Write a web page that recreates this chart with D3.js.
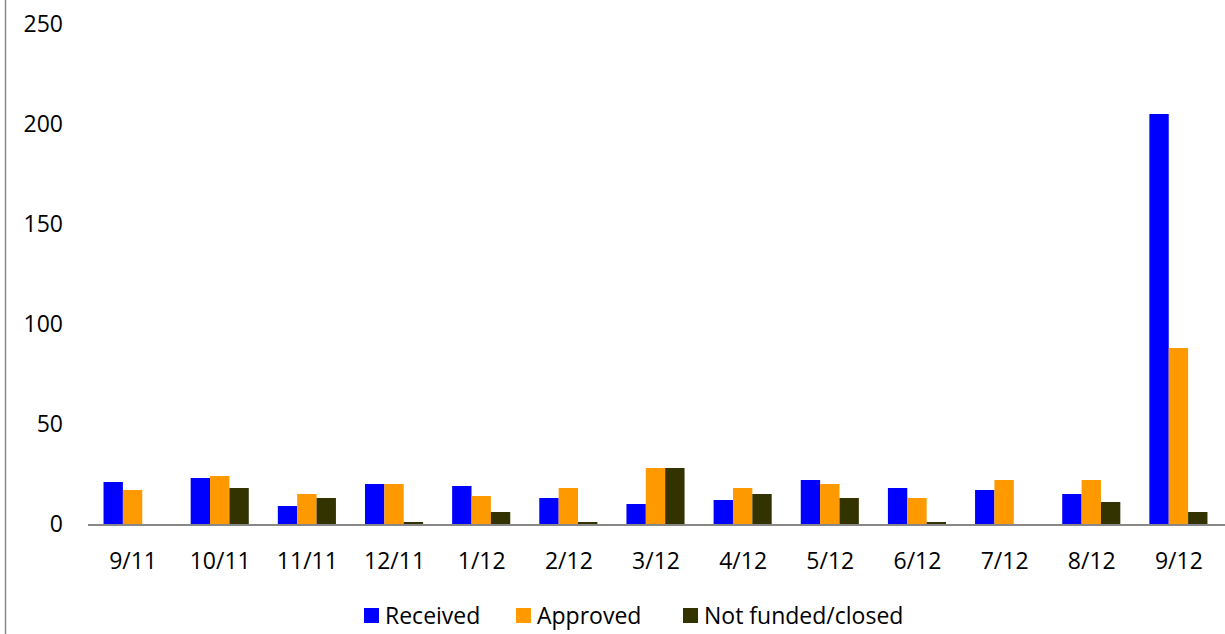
<!DOCTYPE html>
<html><head><meta charset="utf-8">
<script src="https://cdn.jsdelivr.net/npm/d3@7"></script>
<style>body{margin:0;background:#fff}svg{display:block}</style>
</head><body>
<svg id="chart" width="1225" height="634"></svg>
<script>
const categories = ["9/11","10/11","11/11","12/11","1/12","2/12","3/12","4/12","5/12","6/12","7/12","8/12","9/12"];
const received   = [21,23,9,20,19,13,10,12,22,18,17,15,205];
const approved   = [17,24,15,20,14,18,28,18,20,13,22,22,88];
const notFunded  = [0,18,13,1,6,1,28,15,13,1,0,11,6];
const seriesNames = ["Received","Approved","Not funded/closed"];
const seriesColors = ["#0000FF","#FF9900","#333300"];
const yTicks = [0,50,100,150,200,250];

const seriesData = [received, approved, notFunded];
const svg = d3.select("#chart");
const font = "'Open Sans', 'DejaVu Sans', sans-serif";
const fs = 23;

// frame line
svg.append("line").attr("x1",5.5).attr("x2",5.5).attr("y1",0).attr("y2",634)
  .attr("stroke","#888").attr("stroke-width",1.5);

const x0 = d3.scaleBand().domain(categories).range([89.5,1222.5]).paddingInner(0).paddingOuter(0);
const x1 = d3.scaleBand().domain(d3.range(3)).range([0,x0.bandwidth()]).paddingOuter(0.75).paddingInner(0);
const y = d3.scaleLinear().domain([0,250]).range([524,24]);

// y labels
svg.append("g").selectAll("text").data(yTicks).join("text")
  .attr("x",63).attr("y",d=>y(d)).attr("dy","0.36em").attr("text-anchor","end")
  .attr("font-family",font).attr("font-size",fs).attr("fill","#000").text(d=>d);

// bars
const g = svg.append("g");
categories.forEach((c,i)=>{
  seriesData.forEach((arr,s)=>{
    const v = arr[i];
    if (v<=0) return;
    g.append("rect").attr("x",x0(c)+x1(s)-0.5).attr("width",x1.bandwidth())
      .attr("y",y(v)).attr("height",y(0)-y(v)).attr("fill",seriesColors[s]);
  });
});

// baseline
svg.append("line").attr("x1",88).attr("x2",1225).attr("y1",y(0)+1).attr("y2",y(0)+1)
  .attr("stroke","#888").attr("stroke-width",2);

// x labels
svg.append("g").selectAll("text").data(categories).join("text")
  .attr("x",d=>x0(d)+x0.bandwidth()/2).attr("y",560.5).attr("dy","0.36em").attr("text-anchor","middle")
  .attr("font-family",font).attr("font-size",fs).attr("fill","#000").text(d=>d);

// legend
const legX = [364,516,683];
const lg = svg.append("g");
seriesNames.forEach((n,s)=>{
  lg.append("rect").attr("x",legX[s]).attr("y",608).attr("width",15).attr("height",15).attr("fill",seriesColors[s]);
  lg.append("text").attr("x",legX[s]+21).attr("y",624)
    .attr("font-family",font).attr("font-size",fs).attr("fill","#000").text(n);
});
</script>
</body></html>
